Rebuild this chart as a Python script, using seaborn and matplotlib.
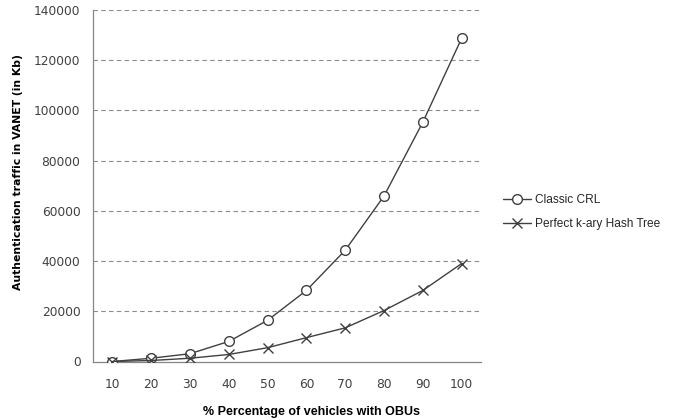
import numpy as np
import pandas as pd
import matplotlib
matplotlib.use("Agg")
import matplotlib.pyplot as plt
import seaborn as sns

# values
pct_obu = [10, 20, 30, 40, 50, 60, 70, 80, 90, 100]
classic_crl = [0, 1300, 3100, 8000, 16400, 28300, 44300, 65900, 95300, 128700]
hash_tree = [0, 400, 1300, 2800, 5500, 9500, 13400, 20300, 28300, 39000]
y_ticks = [0, 20000, 40000, 60000, 80000, 100000, 120000, 140000]

df_crl = pd.DataFrame({"pct": pct_obu, "traffic": classic_crl})
df_tree = pd.DataFrame({"pct": pct_obu, "traffic": hash_tree})

sns.set_style("white")
plt.rcParams["font.family"] = ["DejaVu Sans"]

fig = plt.figure(figsize=(6.74, 4.2), dpi=100)
ax = fig.add_axes([93 / 674, 1 - 361.5 / 420, (481 - 93) / 674, (361.5 - 10) / 420])

line_col = "#404040"
sns.lineplot(data=df_crl, x="pct", y="traffic", color=line_col, linewidth=1.0,
             marker="o", markersize=7, markerfacecolor="white",
             markeredgecolor=line_col, markeredgewidth=1.0, ax=ax, zorder=3)
sns.lineplot(data=df_tree, x="pct", y="traffic", color=line_col, linewidth=1.0,
             marker="x", markersize=7, markeredgecolor=line_col,
             markeredgewidth=1.0, ax=ax, zorder=3)

ax.set_xlim(5, 105)
ax.set_ylim(0, 140000)
ax.set_xticks(pct_obu)
ax.set_xticks(np.arange(5, 106, 10), minor=True)
ax.set_yticks(y_ticks)
ax.tick_params(axis="x", which="major", length=0, pad=12, labelsize=8.8, labelcolor="#404040")
ax.tick_params(axis="x", which="minor", length=4, color="#868686", direction="out", width=0.8)
ax.tick_params(axis="y", length=4, color="#868686", direction="out", width=0.8,
               labelsize=8.8, labelcolor="#404040", pad=5)

for y in y_ticks[1:]:
    ax.axhline(y, color="#8c8c8c", lw=0.8, ls=(0, (4, 3)), zorder=0)

for s in ["top", "right"]:
    ax.spines[s].set_visible(False)
for s in ["left", "bottom"]:
    ax.spines[s].set_color("#868686")
    ax.spines[s].set_linewidth(0.9)

ax.set_ylabel("Authentication traffic in VANET (in Kb)", fontsize=7.8, fontweight="bold",
              color="black", labelpad=6)
ax.yaxis.set_label_coords(-0.18, 0.54)
ax.set_xlabel("% Percentage of vehicles with OBUs", fontsize=9, fontweight="bold",
              family="Liberation Sans", color="black")
ax.xaxis.set_label_coords(0.562, -0.128)

handles = [
    plt.Line2D([], [], color=line_col, lw=1.0, marker="o", markersize=7,
               markerfacecolor="white", markeredgecolor=line_col),
    plt.Line2D([], [], color=line_col, lw=1.0, marker="x", markersize=7,
               markeredgecolor=line_col),
]
fig.legend(handles, ["Classic CRL", "Perfect k-ary Hash Tree"],
           loc="upper left", bbox_to_anchor=(492 / 674, 1 - 183 / 420),
           frameon=False, handlelength=2.4, handletextpad=0.3, labelspacing=1.0,
           prop={"family": "Liberation Sans", "size": 8.6})

fig.savefig("out.png", dpi=100)
